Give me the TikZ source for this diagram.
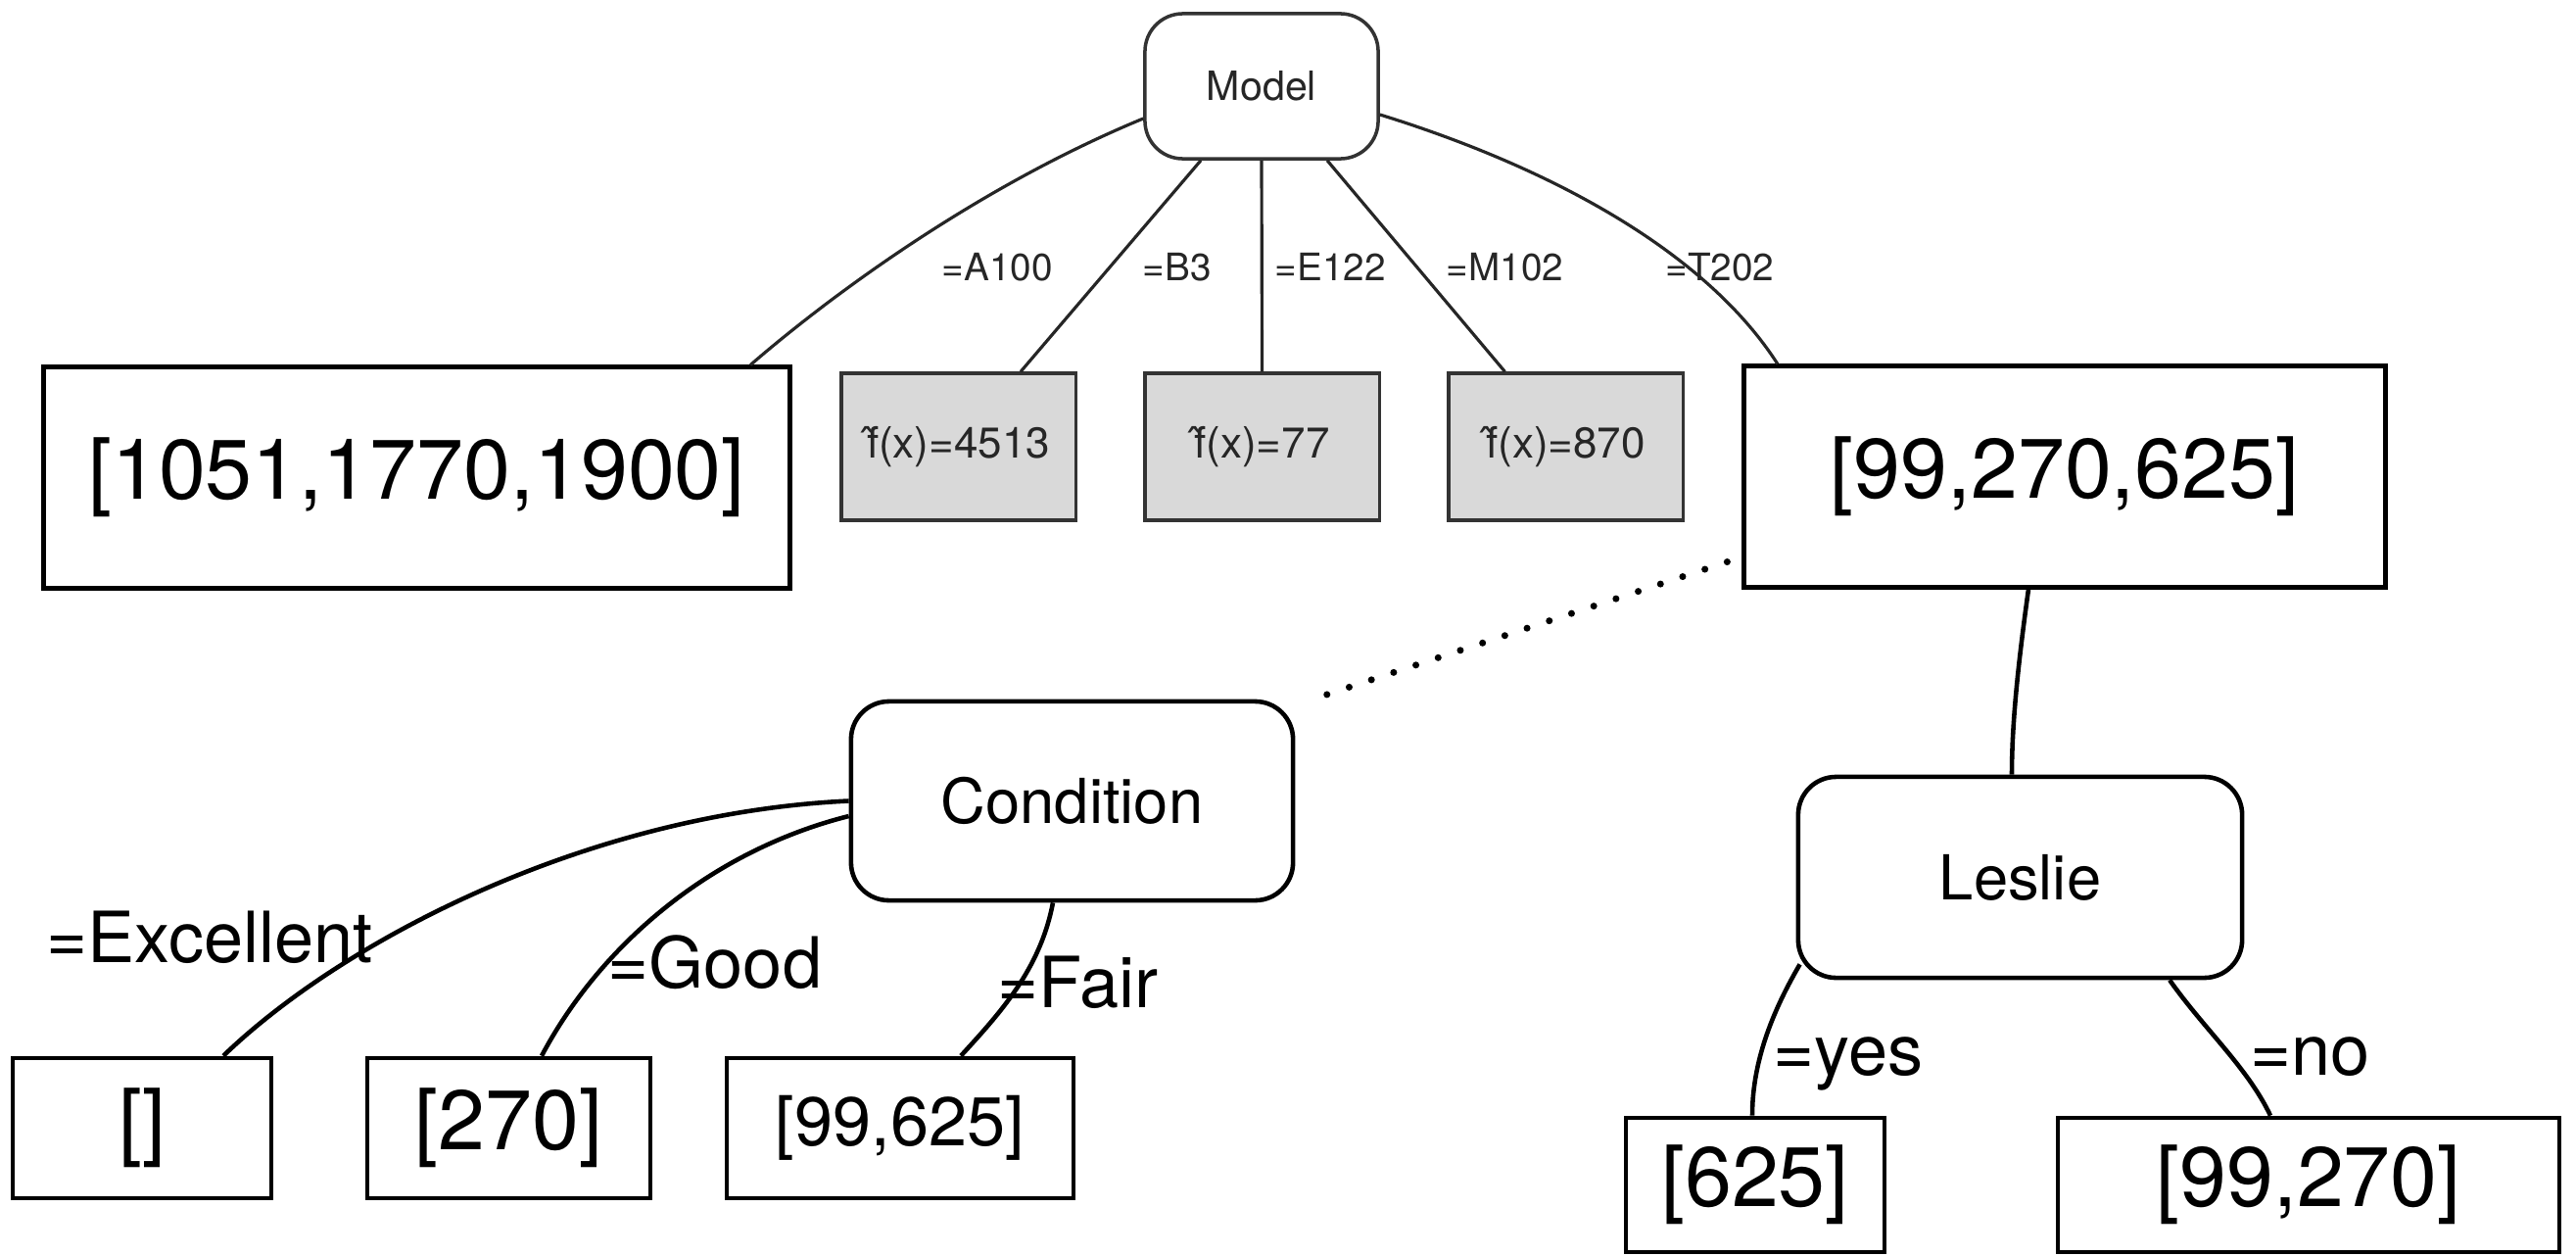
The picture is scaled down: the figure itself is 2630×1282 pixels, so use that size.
\documentclass[tikz,border=0pt]{standalone}
\usepackage{fontspec}
\setmainfont{TeX Gyre Heros}
\usetikzlibrary{calc}

\tikzset{
  bigtxt/.style={font=\fontsize{24.5}{29}\selectfont},
  midtxt/.style={font=\fontsize{20}{24}\selectfont},
  nodetxt/.style={font=\fontsize{18}{22}\selectfont},
  edgetxt/.style={font=\fontsize{20.5}{24}\selectfont, inner sep=0pt, anchor=base west},
  smalltxt/.style={font=\fontsize{11}{13}\selectfont, text=black!85},
  toplbl/.style={smalltxt, inner sep=0pt, anchor=base west},
  setbox/.style={draw=black, line width=1.4pt, fill=white, inner sep=0pt},
  leafbox/.style={draw=black, line width=1.3pt, fill=white, inner sep=0pt},
  valbox/.style={draw=black!80, line width=0.9pt, fill=black!15, inner sep=0pt,
                 font=\fontsize{12.5}{15}\selectfont, text=black!85},
  attrbox/.style={draw=black, line width=1.3pt, fill=white, rounded corners=11pt, inner sep=0pt, nodetxt},
  rootbox/.style={draw=black!80, line width=1pt, fill=white, rounded corners=11pt, inner sep=0pt,
                  font=\fontsize{11.7}{14}\selectfont, text=black!85},
  toplink/.style={draw=black!85, line width=0.9pt},
  link/.style={draw=black, line width=1.3pt},
  dotlink/.style={draw=black, line width=2pt, line cap=round, dash pattern=on 0pt off 6.8pt}
}

\begin{document}
\begin{tikzpicture}[x=0.01cm,y=-0.01cm]
\useasboundingbox (0,0) rectangle (2630,1282);

% root attribute and its children
\node[rootbox, minimum width=2.38cm, minimum height=1.48cm] (model) at (1288,88) {Model};
\node[setbox, bigtxt, minimum width=7.61cm, minimum height=2.25cm] (left) at (425.5,487.5) {[1051,1770,1900]};
\node[valbox, minimum width=2.39cm, minimum height=1.50cm] (va) at (978.5,456) {\^{f}(x)=4513};
\node[valbox, minimum width=2.39cm, minimum height=1.50cm] (vb) at (1288.5,456) {\^{f}(x)=77};
\node[valbox, minimum width=2.39cm, minimum height=1.50cm] (vc) at (1598.5,456) {\^{f}(x)=870};
\node[setbox, bigtxt, minimum width=6.54cm, minimum height=2.25cm] (right) at (2108,486.5) {[99,270,625]};

% second level attributes
\node[attrbox, minimum width=4.51cm, minimum height=2.03cm] (cond) at (1094.5,817.5) {Condition};
\node[attrbox, minimum width=4.53cm, minimum height=2.05cm] (leslie) at (2062.5,895.5) {Leslie};

% leaves
\node[leafbox, bigtxt, minimum width=2.64cm, minimum height=1.43cm] (exc) at (145,1151.5) {[]};
\node[leafbox, bigtxt, minimum width=2.89cm, minimum height=1.43cm] (good) at (519.5,1151.5) {[270]};
\node[leafbox, midtxt, minimum width=3.54cm, minimum height=1.43cm] (fair) at (919,1151.5) {[99,625]};
\node[leafbox, bigtxt, minimum width=2.64cm, minimum height=1.37cm] (yes) at (1792,1209.5) {[625]};
\node[leafbox, bigtxt, minimum width=5.12cm, minimum height=1.37cm] (no) at (2357,1209.5) {[99,270]};

% branches of the root
\draw[toplink] ([yshift=-0.33cm]model.west) .. controls (1000,190) and (850,300) .. ([xshift=3.405cm]left.north);
\draw[toplink] ([xshift=-0.62cm]model.south) -- ([xshift=0.635cm]va.north);
\draw[toplink] (model.south) -- (vb.north);
\draw[toplink] ([xshift=0.67cm]model.south) -- ([xshift=-0.62cm]vc.north);
\draw[toplink] ([yshift=-0.29cm]model.east) .. controls (1580,170) and (1740,255) .. ([xshift=-2.93cm]right.north);

\node[toplbl] at (961,286) {=A100};
\node[toplbl] at (1166,286) {=B3};
\node[toplbl] at (1301,286) {=E122};
\node[toplbl] at (1476,286) {=M102};
\node[toplbl] at (1700,286) {=T202};

% lower branches
\draw[link] ([xshift=-0.37cm]right.south) .. controls (2060,680) and (2054,740) .. ([xshift=-0.085cm]leslie.north);
\draw[dotlink] ([xshift=-0.15cm,yshift=0.28cm]right.south west) -- ([xshift=0.12cm,yshift=-0.02cm]cond.north east);

\draw[link] (cond.west) .. controls (600,830) and (350,960) .. ([xshift=0.83cm]exc.north);
\draw[link] ([yshift=-0.155cm]cond.west) .. controls (720,870) and (610,970) .. ([xshift=0.335cm]good.north);
\draw[link] ([xshift=-0.195cm]cond.south) .. controls (1062,990) and (1020,1035) .. ([xshift=0.62cm]fair.north);
\draw[link] ([xshift=0.04cm,yshift=0.16cm]leslie.south west) .. controls (1805,1040) and (1789,1090) .. ([xshift=-0.03cm]yes.north);
\draw[link] ([xshift=1.525cm]leslie.south) .. controls (2250,1050) and (2295,1090) .. ([xshift=-0.39cm]no.north);

\node[edgetxt] at (47,982) {=Excellent};
\node[edgetxt] at (620,1008) {=Good};
\node[edgetxt] at (1018,1028) {=Fair};
\node[edgetxt] at (1810,1097) {=yes};
\node[edgetxt] at (2297,1097) {=no};
\end{tikzpicture}
\end{document}
